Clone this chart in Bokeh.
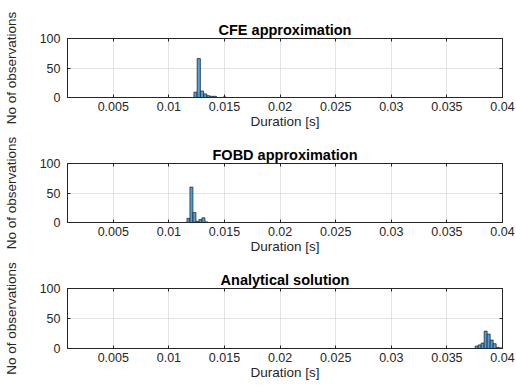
from bokeh.plotting import figure
from bokeh.layouts import column
from bokeh.models import Range1d, FixedTicker, CustomJSTickFormatter, LinearAxis, ColumnDataSource
from bokeh.embed import file_html
from bokeh.resources import INLINE

# ---------------- data ----------------
titles = ["CFE approximation", "FOBD approximation", "Analytical solution"]
x_label = "Duration [s]"
y_label = "No of observations"
x_ticks = [0.005, 0.01, 0.015, 0.02, 0.025, 0.03, 0.035, 0.04]
y_ticks = [0, 50, 100]
x_limits = [0.00088, 0.04]
y_limits = [0, 100]

cfe_first_edge = 0.01225
cfe_bin_width = 0.00029
cfe_counts = [9, 66, 11, 6, 3, 2, 2, 0, 0, 1]

fobd_first_edge = 0.01162
fobd_bin_width = 0.00027
fobd_counts = [7, 60, 17, 2, 5, 8, 1, 0, 0, 0]

ana_first_edge = 0.03727
ana_bin_width = 0.00027
ana_counts = [0, 4, 6, 9, 29, 24, 14, 8, 2, 1]

# ---------------- style ----------------
FONT = "Liberation Sans"
TXT = "#262626"
BAR_FILL = "#4F9FDC"
BAR_LINE = "#1a1a1a"
GRID = "#e3e3e3"

fmt_code = "return tick.toFixed(3).replace(/0+$/, '');"


def style_axis(ax, show_labels=True):
    ax.major_tick_in = 3
    ax.major_tick_out = 0
    ax.minor_tick_line_color = None
    ax.axis_line_color = TXT
    ax.major_tick_line_color = TXT
    if show_labels:
        ax.major_label_text_font = FONT
        ax.major_label_text_font_size = "12.5px"
        ax.major_label_text_color = TXT
        ax.axis_label_text_font = FONT
        ax.axis_label_text_font_size = "13.5px"
        ax.axis_label_text_font_style = "normal"
        ax.axis_label_text_color = TXT
    else:
        ax.major_label_text_font_size = "0px"
        ax.major_label_text_alpha = 0
        ax.major_label_standoff = 0


def make_panel(title, first_edge, bin_width, counts, top_border, bottom_border, frame_h):
    p = figure(frame_width=435, frame_height=frame_h,
               x_range=Range1d(*x_limits), y_range=Range1d(*y_limits),
               output_backend="svg", toolbar_location=None,
               min_border_left=63, min_border_right=18,
               min_border_top=top_border, min_border_bottom=bottom_border)
    p.background_fill_color = "white"
    p.border_fill_color = "white"
    p.outline_line_color = TXT
    p.outline_line_width = 1

    p.title.text = title
    p.title.align = "center"
    p.title.text_font = FONT
    p.title.text_font_size = "14.5px"
    p.title.text_font_style = "bold"
    p.title.text_color = "black"
    p.title.standoff = 2

    left = [first_edge + i * bin_width for i in range(len(counts))]
    right = [first_edge + (i + 1) * bin_width for i in range(len(counts))]
    src = ColumnDataSource(dict(left=left, right=right, top=counts, bottom=[0] * len(counts)))
    p.quad(left="left", right="right", top="top", bottom="bottom", source=src,
           fill_color=BAR_FILL, line_color=BAR_LINE, line_width=0.7)

    p.xaxis.ticker = FixedTicker(ticks=x_ticks)
    p.xaxis.formatter = CustomJSTickFormatter(code=fmt_code)
    p.xaxis.axis_label = x_label
    p.xaxis.major_label_standoff = 4
    p.xaxis.axis_label_standoff = 0
    p.yaxis.ticker = FixedTicker(ticks=y_ticks)
    p.yaxis.axis_label = y_label
    p.yaxis.major_label_standoff = 7
    p.yaxis.axis_label_standoff = 18
    style_axis(p.xaxis[0])
    style_axis(p.yaxis[0])

    p.xgrid.ticker = FixedTicker(ticks=x_ticks)
    p.ygrid.ticker = FixedTicker(ticks=y_ticks)
    p.grid.grid_line_color = GRID
    p.grid.grid_line_width = 1

    ax_r = LinearAxis(ticker=FixedTicker(ticks=y_ticks))
    style_axis(ax_r, show_labels=False)
    p.add_layout(ax_r, "right")
    ax_t = LinearAxis(ticker=FixedTicker(ticks=x_ticks))
    style_axis(ax_t, show_labels=False)
    p.add_layout(ax_t, "above")
    return p


p1 = make_panel(titles[0], cfe_first_edge, cfe_bin_width, cfe_counts, 38, 36, 59)
p2 = make_panel(titles[1], fobd_first_edge, fobd_bin_width, fobd_counts, 30, 36, 59)
p3 = make_panel(titles[2], ana_first_edge, ana_bin_width, ana_counts, 30, 43, 60)

layout = column(p1, p2, p3)
open("out.html", "w").write(file_html(layout, INLINE))
